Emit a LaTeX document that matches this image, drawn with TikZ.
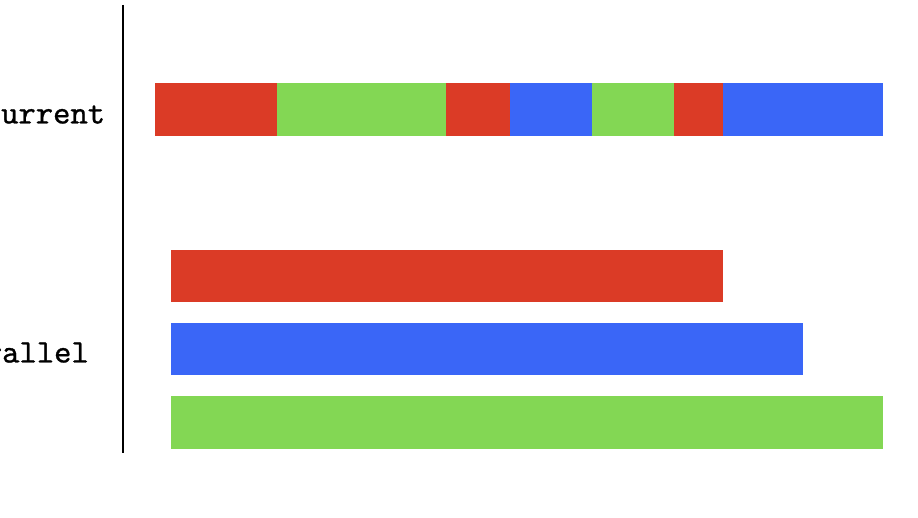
\documentclass[tikz,border=0pt]{standalone}
\usepackage{fontspec}
\newfontfamily\lblfont{lmmono10-regular.otf}[FakeBold=0.8]
\definecolor{barred}{HTML}{DB3B26}
\definecolor{bargreen}{HTML}{83D754}
\definecolor{barblue}{HTML}{3A66F7}
\begin{document}
\begin{tikzpicture}[x=1pt,y=1pt,
  lbl/.style={font=\lblfont\fontsize{33}{33}\selectfont, anchor=base, inner sep=0pt},
  axis/.style={line width=2.7pt, black}]
\useasboundingbox (0,0) rectangle (918,517);
\fill[white] (0,0) rectangle (918,517);
% axis
\coordinate (axtop) at (123,512);
\coordinate (axbot) at (123,64);
\draw[axis] (axtop) -- (axbot);
% labels
\node[lbl] (conc) at (18.5,393.5) {Concurrent};
\node[lbl] (par) at (19.5,154.5) {Parallel};
% concurrent bar
\fill[barred]   (155,381) rectangle (276.5,433.5);
\fill[bargreen] (276.5,381) rectangle (446,433.5);
\fill[barred]   (446,381) rectangle (510,433.5);
\fill[barblue]  (510,381) rectangle (592,433.5);
\fill[bargreen] (592,381) rectangle (674,433.5);
\fill[barred]   (674,381) rectangle (723.3,433.5);
\fill[barblue]  (723.3,381) rectangle (882.5,433.5);
% parallel bars
\fill[barred]   (171,214.5) rectangle (723.3,267);
\fill[barblue]  (171,141.5) rectangle (803,194.3);
\fill[bargreen] (171,68.5) rectangle (883,121.3);
\end{tikzpicture}
\end{document}
